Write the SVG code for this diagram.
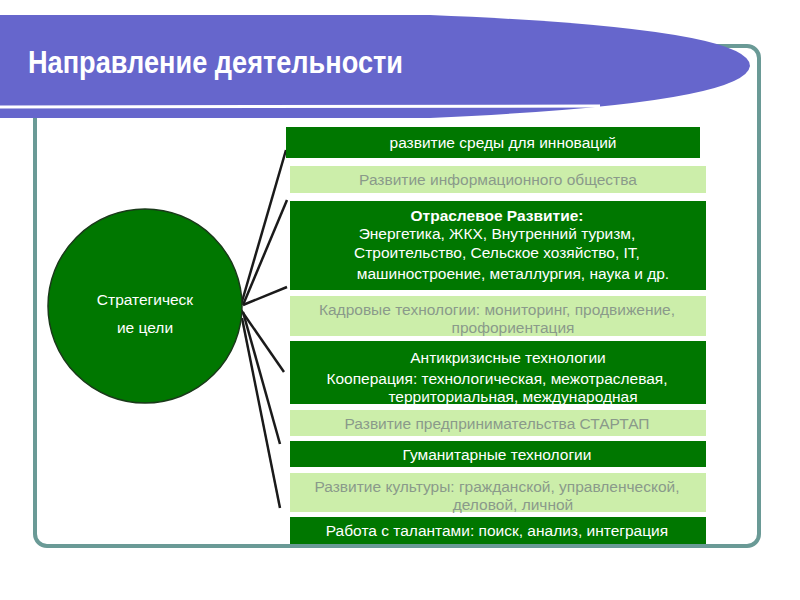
<svg xmlns="http://www.w3.org/2000/svg" width="800" height="600" viewBox="0 0 800 600">
<style>
text{font-family:"Liberation Sans",Arial,sans-serif;text-anchor:middle}
.d{fill:#007700}
.l{fill:#cceeaa}
.dt{fill:#fff;font-size:15.5px}
.lt{fill:#8a9a8a;font-size:15.5px}
.c line{stroke:#1a1a1a;stroke-width:2.5}
</style>
<rect width="800" height="600" fill="#fff"/>
<rect x="35" y="46" width="724" height="500" rx="12" fill="none" stroke="#6a9a96" stroke-width="4"/>
<g id="title">
<path d="M0,15 L430,15 Q750,28 750,66 Q745,104 430,118 L0,118 Z" fill="#6666cc"/>
<line x1="0" y1="107" x2="600" y2="106" stroke="#fff" stroke-width="3"/>
<text x="28" y="73" textLength="375" lengthAdjust="spacingAndGlyphs" style="text-anchor:start;font-weight:bold;font-size:32px" fill="#fff">Направление деятельности</text>
</g>
<g class="c" id="connectors">
<line x1="241" y1="305" x2="286" y2="150"/>
<line x1="243" y1="305" x2="287" y2="200"/>
<line x1="243" y1="305" x2="287" y2="287"/>
<line x1="241" y1="310" x2="284" y2="372"/>
<line x1="243" y1="312" x2="280" y2="444"/>
<line x1="242" y1="318" x2="280" y2="508"/>
</g>
<g id="goal">
<circle cx="145" cy="306" r="97" fill="#007700" stroke="#1a3a1a" stroke-width="1.5"/>
<text x="145" y="305" class="dt" style="font-size:15.5px">Стратегическ</text>
<text x="145" y="333" class="dt" style="font-size:15.5px">ие цели</text>
</g>
<g id="b1"><rect x="286" y="127" width="414" height="31" class="d"/><text x="503" y="148" class="dt">развитие среды для инноваций</text></g>
<g id="b2"><rect x="290" y="166" width="416" height="27" class="l"/><text x="498" y="185" class="lt">Развитие информационного общества</text></g>
<g id="b3"><rect x="290" y="201" width="416" height="89" class="d"/>
<text x="497" y="221" class="dt" font-weight="bold">Отраслевое  Развитие:</text>
<text x="497" y="239" class="dt">Энергетика, ЖКХ, Внутренний туризм,</text>
<text x="497" y="258" class="dt">Строительство, Сельское хозяйство, IT,</text>
<text x="513" y="279" class="dt">машиностроение, металлургия, наука и др.</text></g>
<g id="b4"><rect x="290" y="296" width="416" height="40" class="l"/>
<text x="497" y="315" class="lt">Кадровые технологии: мониторинг, продвижение,</text>
<text x="513" y="333" class="lt">профориентация</text></g>
<g id="b5"><rect x="290" y="341" width="416" height="63" class="d"/>
<text x="508" y="363" class="dt">Антикризисные технологии</text>
<text x="497" y="384" class="dt">Кооперация: технологическая, межотраслевая,</text>
<text x="513" y="402" class="dt">территориальная, международная</text></g>
<g id="b6"><rect x="290" y="410" width="416" height="26" class="l"/><text x="497" y="429" class="lt">Развитие предпринимательства СТАРТАП</text></g>
<g id="b7"><rect x="290" y="441" width="416" height="26" class="d"/><text x="497" y="460" class="dt">Гуманитарные технологии</text></g>
<g id="b8"><rect x="290" y="473" width="416" height="39" class="l"/>
<text x="497" y="492" class="lt">Развитие культуры: гражданской, управленческой,</text>
<text x="513" y="510" class="lt">деловой, личной</text></g>
<g id="b9"><rect x="290" y="517" width="416" height="27" class="d"/><text x="497" y="536" class="dt">Работа с талантами: поиск, анализ, интеграция</text></g>
</svg>
